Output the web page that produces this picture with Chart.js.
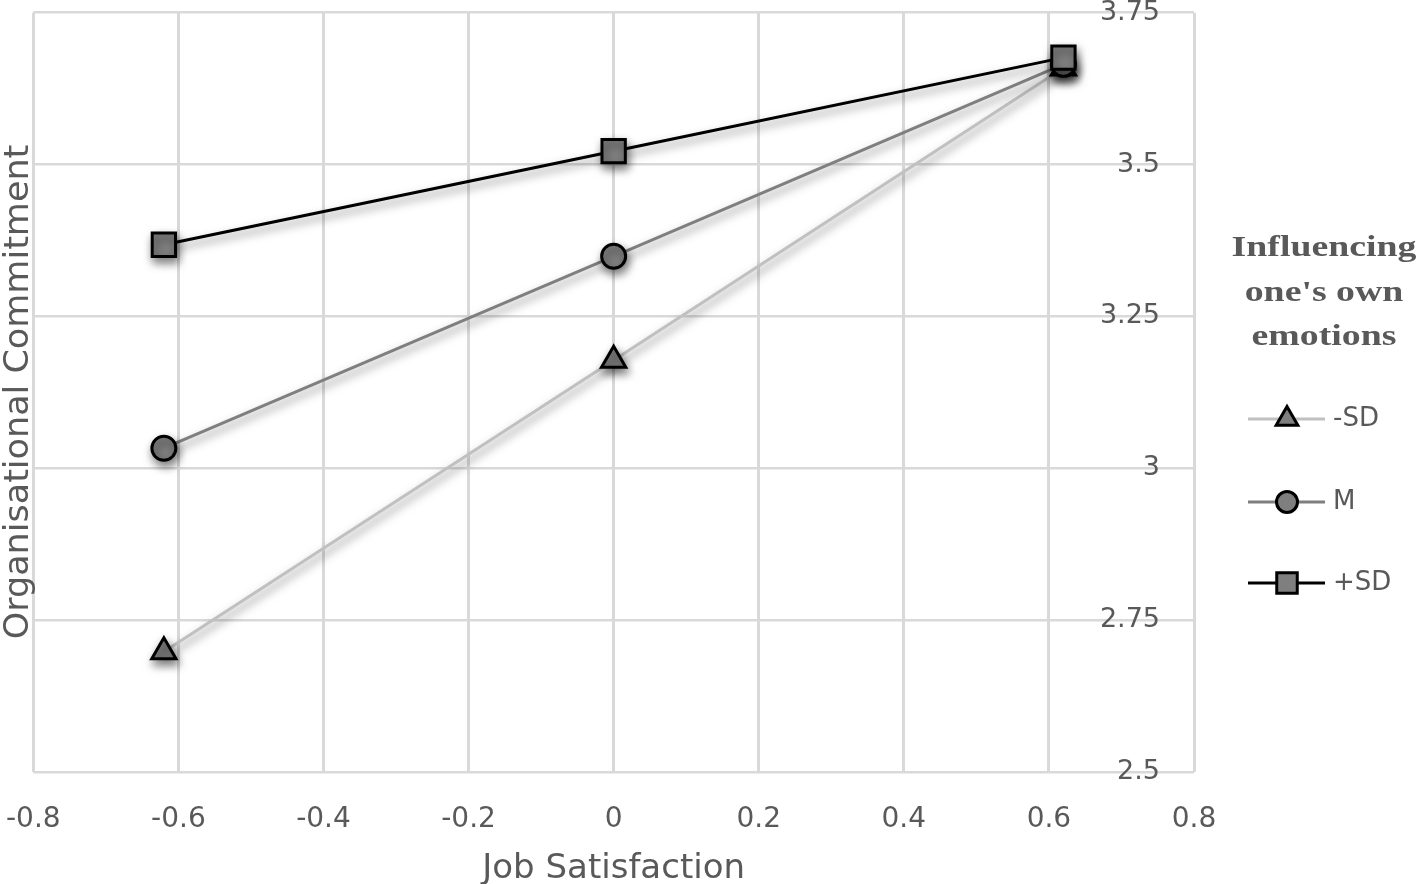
<!DOCTYPE html>
<html><head><meta charset="utf-8">
<script src="https://cdn.jsdelivr.net/npm/chart.js@4"></script>
<style>html,body{margin:0;padding:0;background:#fff;}#wrap{width:1418px;height:884px;}</style>
</head><body><div id="wrap"><canvas id="c" width="1418" height="884"></canvas></div>
<script>
// ---- data ----
const xValues = [-0.62, 0, 0.62];
const seriesLabels = ['-SD', 'M', '+SD'];
const lowSD = [2.698, 3.178, 3.659];
const mean = [3.033, 3.349, 3.665];
const highSD = [3.368, 3.522, 3.676];
const xTickValues = [-0.8, -0.6, -0.4, -0.2, 0, 0.2, 0.4, 0.6, 0.8];
const xTickLabels = ['-0.8', '-0.6', '-0.4', '-0.2', '0', '0.2', '0.4', '0.6', '0.8'];
const yTickValues = [2.5, 2.75, 3, 3.25, 3.5, 3.75];
const yTickLabels = ['2.5', '2.75', '3', '3.25', '3.5', '3.75'];
const xTitle = 'Job Satisfaction';
const yTitle = 'Organisational Commitment';
const legendTitle = ['Influencing', "one's own", 'emotions'];

// ---- styles ----
const seriesValues = [lowSD, mean, highSD];
const styles = [
  {line: '#c0c0c0', point: 'triangle', r: 14, order: 2},
  {line: '#7f7f7f', point: 'circle', r: 12, order: 1},
  {line: '#000000', point: 'rect', r: 16.5, order: 0}
];
const legendR = [12.5, 10.5, 14.5];
const TEXT = '#595959';

const datasets = seriesValues.map((vals, i) => ({
  label: seriesLabels[i],
  data: xValues.map((x, j) => ({x: x, y: vals[j]})),
  borderColor: styles[i].line,
  borderWidth: 3,
  pointStyle: styles[i].point,
  pointRadius: styles[i].r,
  pointHoverRadius: styles[i].r,
  pointBackgroundColor: '#7f7f7f',
  pointBorderColor: '#000000',
  pointBorderWidth: 3,
  pointHoverBorderWidth: 3,
  tension: 0,
  order: styles[i].order,
  clip: false
}));

const shadowPlugin = {
  id: 'shadow',
  beforeDatasetsDraw(chart) {
    const c = chart.ctx; c.save();
    c.shadowColor = 'rgba(0,0,0,0.5)'; c.shadowBlur = 10; c.shadowOffsetX = 2; c.shadowOffsetY = 5;
  },
  afterDatasetsDraw(chart) { chart.ctx.restore(); }
};

const textPlugin = {
  id: 'texts',
  afterDraw(chart) {
    const ctx = chart.ctx;
    // y title
    ctx.save();
    ctx.fillStyle = TEXT;
    ctx.font = '33px "DejaVu Sans"';
    ctx.textAlign = 'center'; ctx.textBaseline = 'alphabetic';
    ctx.translate(28, 392);
    ctx.rotate(-Math.PI / 2);
    ctx.scale(1.06, 1);
    ctx.fillText(yTitle, 0, 0);
    ctx.restore();

    // legend title
    ctx.save();
    ctx.fillStyle = TEXT;
    ctx.font = 'bold 30px "Liberation Serif"';
    ctx.textAlign = 'center'; ctx.textBaseline = 'middle';
    const tys = [248, 293, 337];
    legendTitle.forEach((t, i) => {
      ctx.save(); ctx.translate(1324, tys[i]); ctx.scale(1.26, 1); ctx.fillText(t, 0, 0); ctx.restore();
    });
    // legend items
    const iys = [419, 502, 583];
    chart.data.datasets.forEach((ds, i) => {
      const y = iys[i];
      ctx.strokeStyle = ds.borderColor; ctx.lineWidth = 3;
      ctx.beginPath(); ctx.moveTo(1248, y); ctx.lineTo(1325, y); ctx.stroke();
      ctx.fillStyle = '#7f7f7f'; ctx.strokeStyle = '#000'; ctx.lineWidth = 3;
      Chart.helpers.drawPoint(ctx, {pointStyle: ds.pointStyle, radius: legendR[i], borderWidth: 3, rotation: 0}, 1287, y);
      ctx.fillStyle = TEXT; ctx.textAlign = 'left'; ctx.textBaseline = 'middle';
      ctx.font = '26px "DejaVu Sans"';
      ctx.fillText(ds.label, 1333, y);
    });
    ctx.restore();
  }
};

new Chart(document.getElementById('c'), {
  type: 'line',
  data: {datasets: datasets},
  plugins: [shadowPlugin, textPlugin],
  options: {
    responsive: false,
    animation: false,
    devicePixelRatio: 1,
    layout: {autoPadding: false, padding: {left: 33.3, right: 224, top: 12.7, bottom: 0}},
    plugins: {legend: {display: false}, tooltip: {enabled: false}},
    scales: {
      x: {
        type: 'linear', min: -0.8, max: 0.8, position: 'bottom',
        afterBuildTicks: s => { s.ticks = xTickValues.map(v => ({value: v})); },
        ticks: {callback: (v, i) => xTickLabels[i], color: TEXT, font: {family: 'DejaVu Sans', size: 28}, padding: 31, maxRotation: 0, autoSkip: false},
        grid: {color: '#d9d9d9', lineWidth: 3, drawTicks: false},
        border: {display: false},
        title: {display: true, text: xTitle, color: TEXT, font: {family: 'DejaVu Sans', size: 34, lineHeight: 1.0}, padding: {top: 0, bottom: -2}},
        afterFit: s => { s.height = 112; s.paddingLeft = 0; s.paddingRight = 0; s.paddingTop = 0; s.paddingBottom = 0; }
      },
      y: {
        type: 'linear', min: 2.5, max: 3.75, position: 'right',
        afterBuildTicks: s => { s.ticks = yTickValues.map(v => ({value: v})); },
        ticks: {mirror: true, padding: -34, callback: (v, i) => yTickLabels[i], color: TEXT, font: {family: 'DejaVu Sans', size: 27}, autoSkip: false},
        grid: {color: '#d9d9d9', lineWidth: 2.5, drawTicks: false},
        border: {display: false},
        afterFit: s => { s.width = 0; s.paddingLeft = 0; s.paddingRight = 0; s.paddingTop = 0; s.paddingBottom = 0; }
      }
    }
  }
});
</script>
</body></html>
